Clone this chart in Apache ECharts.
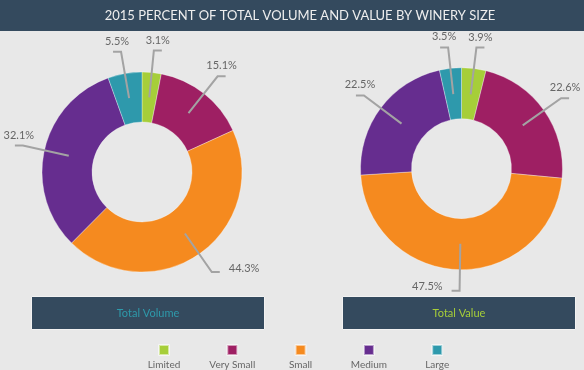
<!DOCTYPE html>
<html><head><meta charset="utf-8">
<script src="https://cdn.jsdelivr.net/npm/echarts@6/dist/echarts.min.js"></script>
<style>html,body{margin:0;padding:0;background:#e8e8e8}#c{width:584px;height:370px}</style>
</head><body><div id="c"></div>
<script>
const categories = ['Limited', 'Very Small', 'Small', 'Medium', 'Large'];
const volumeValues = [3.1, 15.1, 44.3, 32.1, 5.5];
const valueValues = [3.9, 22.6, 47.5, 22.5, 3.5];
const colors = ['#a6ce39', '#9e1f63', '#f58a1f', '#662d8f', '#2e99ac'];
const chartTitle = '2015 PERCENT OF TOTAL VOLUME AND VALUE BY WINERY SIZE';
const panelTitles = ['Total Volume', 'Total Value'];

const chart = echarts.init(document.getElementById('c'), null, {renderer: 'canvas'});
const FONT = 'Lato, "Open Sans", sans-serif';

function toData(vals) {
  return categories.map((n, i) => ({name: n, value: vals[i]}));
}

function placeLabel(p) {
  const pts = p.labelLinePoints;
  if (!pts || pts.length < 2) return {};
  const start = pts[0], corner = pts[1], end = pts[pts.length - 1];
  const upper = corner[1] < start[1];
  if (upper) {
    return {x: (corner[0] + end[0]) / 2, y: corner[1] - 5, align: 'center', verticalAlign: 'bottom', labelLinePoints: pts};
  }
  const right = end[0] >= corner[0];
  return {x: end[0] + (right ? 9 : -9), y: end[1] - 4, align: right ? 'left' : 'right', verticalAlign: 'middle', labelLinePoints: pts};
}

function ring(vals, center, outer) {
  return {
    type: 'pie', z: 2, center: center, radius: [50, outer], startAngle: 90, clockwise: true,
    avoidLabelOverlap: false, silent: true,
    label: {show: false}, labelLine: {show: false},
    itemStyle: {borderColor: 'rgba(255,255,255,0.55)', borderWidth: 0.6},
    emphasis: {disabled: true},
    data: toData(vals)
  };
}
function labelRing(vals, center) {
  return {
    type: 'pie', z: 6, zlevel: 0, center: center, radius: [0, 75], startAngle: 90, clockwise: true,
    avoidLabelOverlap: false, silent: true, legendHoverLink: false,
    itemStyle: {color: 'rgba(0,0,0,0)'},
    emphasis: {disabled: true},
    label: {show: true, position: 'outside', color: '#666', fontFamily: FONT, fontSize: 11,
      formatter: p => p.value.toFixed(1) + '%'},
    labelLine: {show: true, length: 47, length2: 8, smooth: false,
      lineStyle: {color: '#a3a3a3', width: 2}},
    labelLayout: placeLabel,
    data: toData(vals)
  };
}

const option = {
  backgroundColor: '#e8e8e8',
  color: colors,
  animation: false,
  legend: {
    data: categories, left: 129, top: 339, orient: 'horizontal',
    icon: 'rect', itemWidth: 10, itemHeight: 10, itemGap: 8.3,
    selectedMode: false,
    formatter: '{a|{name}}',
    textStyle: {color: '#666', fontFamily: FONT, fontSize: 10, padding: [30, 0, 0, -40],
      rich: {a: {width: 60, align: 'center', color: '#666', fontFamily: FONT, fontSize: 10, backgroundColor: 'rgba(0,0,0,0)'}}}
  },
  graphic: [
    {type: 'rect', x: 0, y: 0, shape: {width: 584, height: 31}, style: {fill: '#344a5e'}, silent: true},
    {type: 'text', x: 300, y: 16, style: {text: chartTitle, fill: '#eeeeee', font: '13px ' + FONT, align: 'center', verticalAlign: 'middle'}, silent: true},
    {type: 'rect', x: 31.5, y: 296.5, shape: {width: 233, height: 33}, style: {fill: '#344a5e', stroke: '#f2f2f2', lineWidth: 1}, silent: true},
    {type: 'text', x: 148, y: 313, style: {text: panelTitles[0], fill: '#2e9aab', font: '11px ' + FONT, align: 'center', verticalAlign: 'middle'}, silent: true},
    {type: 'rect', x: 342.5, y: 296.5, shape: {width: 233, height: 33}, style: {fill: '#344a5e', stroke: '#f2f2f2', lineWidth: 1}, silent: true},
    {type: 'text', x: 459, y: 313, style: {text: panelTitles[1], fill: '#a6ce39', font: '11px ' + FONT, align: 'center', verticalAlign: 'middle'}, silent: true}
  ],
  series: [
    ring(volumeValues, [142, 172], 100),
    ring(valueValues, [461.5, 168.7], 101),
    labelRing(volumeValues, [142, 172]),
    labelRing(valueValues, [461.5, 168.7])
  ]
};
chart.setOption(option);
</script></body></html>
